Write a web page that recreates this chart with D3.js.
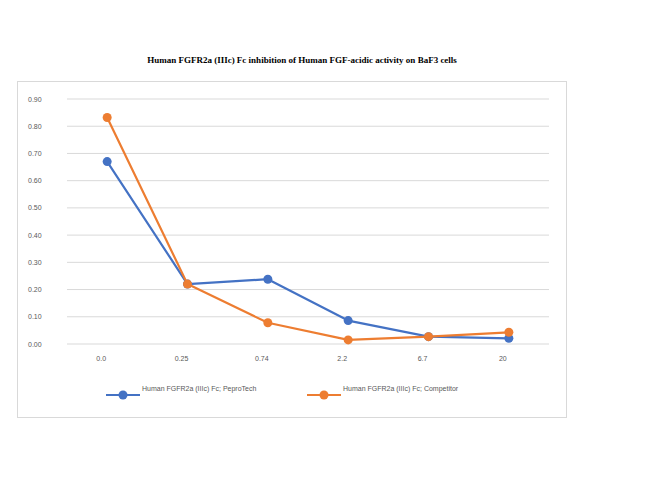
<!DOCTYPE html>
<html>
<head>
<meta charset="utf-8">
<script src="https://cdn.jsdelivr.net/npm/d3@7"></script>
<style>
  body { margin: 0; background: #fff; }
</style>
</head>
<body>
<div id="chart"></div>
<script>
// data
var doses = ['0.0', '0.25', '0.74', '2.2', '6.7', '20'];
var peprotech = [0.67, 0.22, 0.238, 0.086, 0.027, 0.021];
var competitor = [0.832, 0.22, 0.078, 0.015, 0.027, 0.043];
var seriesNames = ['Human FGFR2a (IIIc) Fc; PeproTech', 'Human FGFR2a (IIIc) Fc; Competitor'];
var seriesColours = ['#4472C4', '#ED7D31'];
var yTicks = [0, 0.1, 0.2, 0.3, 0.4, 0.5, 0.6, 0.7, 0.8, 0.9];

var width = 650, height = 502;

var svg = d3.select('#chart').append('svg')
    .attr('width', width)
    .attr('height', height);

// title sits outside the chart box
svg.append('text')
    .text('Human FGFR2a (IIIc) Fc inhibition of Human FGF-acidic activity on BaF3 cells')
    .attr('x', 302)
    .attr('y', 63)
    .attr('text-anchor', 'middle')
    .attr('font-family', 'Liberation Serif')
    .attr('font-weight', 'bold')
    .style('font-size', '9px')
    .attr('fill', '#000');

// chart box
svg.append('rect')
    .attr('x', 17.5)
    .attr('y', 81.5)
    .attr('width', 549)
    .attr('height', 336)
    .attr('fill', '#fff')
    .attr('stroke', '#d9d9d9')
    .attr('stroke-width', 1);

//scales
var x = d3.scaleBand().domain(doses).range([67, 549]);
var y = d3.scaleLinear().domain([0, 0.9]).range([344, 99]);
//scales

// gridlines
svg.append('g').attr('class', 'grid')
    .selectAll('line')
    .data(yTicks)
    .enter().append('line')
    .attr('x1', 67)
    .attr('x2', 549)
    .attr('y1', d => y(d))
    .attr('y2', d => y(d))
    .attr('stroke', '#d9d9d9')
    .attr('stroke-width', 1);

// y labels
svg.append('g').attr('class', 'y_labels')
    .selectAll('text')
    .data(yTicks)
    .enter().append('text')
    .text(d => d.toFixed(2))
    .attr('x', 28)
    .attr('y', d => y(d) + 2.5)
    .attr('font-family', 'Liberation Sans')
    .style('font-size', '7px')
    .attr('fill', '#595959');

// x labels
svg.append('g').attr('class', 'x_labels')
    .selectAll('text')
    .data(doses)
    .enter().append('text')
    .text(d => d)
    .attr('x', d => x(d) + x.bandwidth() / 2 - 6)
    .attr('y', 361)
    .attr('text-anchor', 'middle')
    .attr('font-family', 'Liberation Sans')
    .style('font-size', '7px')
    .attr('fill', '#595959');

var line = d3.line()
    .x((d, i) => x(doses[i]) + x.bandwidth() / 2)
    .y(d => y(d));

[peprotech, competitor].forEach(function(vals, s) {
    var g = svg.append('g').attr('class', 'series');
    g.append('path')
        .attr('d', line(vals))
        .attr('fill', 'none')
        .attr('stroke', seriesColours[s])
        .attr('stroke-width', 2.2)
        .attr('stroke-linejoin', 'round');
    g.selectAll('circle')
        .data(vals)
        .enter().append('circle')
        .attr('cx', (d, i) => x(doses[i]) + x.bandwidth() / 2)
        .attr('cy', d => y(d))
        .attr('r', 4.5)
        .attr('fill', seriesColours[s]);
});

//legend
var legendX = [106, 307];
seriesNames.forEach(function(name, s) {
    var lg = svg.append('g').attr('transform', `translate(${legendX[s]}, 395)`);
    lg.append('line')
        .attr('x1', 0).attr('x2', 34)
        .attr('y1', 0).attr('y2', 0)
        .attr('stroke', seriesColours[s])
        .attr('stroke-width', 2.2);
    lg.append('circle')
        .attr('cx', 17).attr('cy', 0)
        .attr('r', 4.5)
        .attr('fill', seriesColours[s]);
    lg.append('text')
        .text(name)
        .attr('x', 36)
        .attr('y', -4)
        .attr('font-family', 'Liberation Sans')
        .style('font-size', '7px')
        .attr('fill', '#595959');
});
</script>
</body>
</html>
